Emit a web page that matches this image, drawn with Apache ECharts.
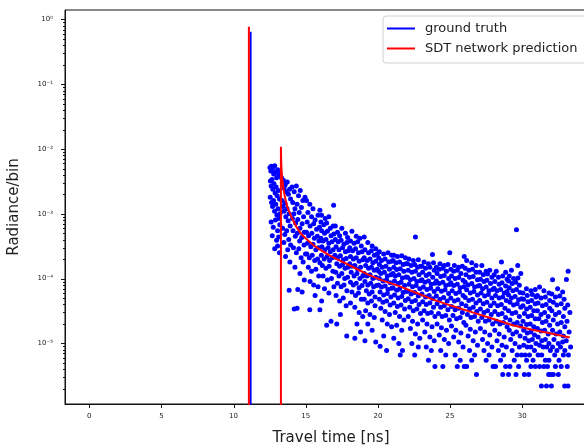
<!DOCTYPE html>
<html><head><meta charset="utf-8">
<script src="https://cdn.jsdelivr.net/npm/echarts@6/dist/echarts.min.js"></script>
<style>html,body{margin:0;padding:0;background:#fff}#c{width:584px;height:446px}</style>
</head><body><div id="c"></div>
<script>
const xTicks = [0, 5, 10, 15, 20, 25, 30];
const yTicks = [1e-5, 1e-4, 1e-3, 1e-2, 1e-1, 1];
const yTickLabels = ['10⁻⁵', '10⁻⁴', '10⁻³', '10⁻²', '10⁻¹', '10⁰'];
const yMinorTicks = [
  2e-6,3e-6,4e-6,5e-6,6e-6,7e-6,8e-6,9e-6,
  2e-5,3e-5,4e-5,5e-5,6e-5,7e-5,8e-5,9e-5,
  2e-4,3e-4,4e-4,5e-4,6e-4,7e-4,8e-4,9e-4,
  2e-3,3e-3,4e-3,5e-3,6e-3,7e-3,8e-3,9e-3,
  2e-2,3e-2,4e-2,5e-2,6e-2,7e-2,8e-2,9e-2,
  2e-1,3e-1,4e-1,5e-1,6e-1,7e-1,8e-1,9e-1
];
const seriesNames = ['ground truth', 'SDT network prediction'];

// ground truth direct peak (vertical spike)
const gtSpike = [[11.18, 1e-9], [11.18, 0.644], [11.18, 1e-9]];

// ground truth scattered radiance per bin
const gtPoints = [
[12.52,5.2e-3],[12.58,4.6e-3],[12.62,5.4e-3],[12.7,5.0e-3],[12.78,4.1e-3],[12.85,5.5e-3],[12.9,4.4e-3],[12.98,3.6e-3],[13.05,4.8e-3],[13.12,3.9e-3],[13.2,4.2e-3],
[12.55,3.2e-3],[12.6,2.7e-3],[12.66,3.4e-3],[12.72,2.4e-3],[12.8,2.9e-3],[12.88,2.1e-3],[12.95,2.6e-3],[13.02,1.9e-3],[13.1,2.3e-3],[13.18,1.7e-3],
[12.54,1.8e-3],[12.63,1.5e-3],[12.7,1.3e-3],[12.77,1.6e-3],[12.84,1.1e-3],[12.92,1.4e-3],[13.0,9.6e-4],[13.08,1.2e-3],[13.15,8.5e-4],[13.22,1.0e-3],
[12.6,7.5e-4],[12.75,6.2e-4],[12.9,8.0e-4],[13.05,5.5e-4],[13.2,6.8e-4],[12.68,4.6e-4],[12.98,3.9e-4],[13.12,4.4e-4],[12.85,2.9e-4],[13.18,2.5e-4],[13.05,3.2e-4],
[13.32,3.6e-3],[13.38,3.0e-3],[13.45,3.3e-3],[13.5,2.5e-3],[13.58,2.8e-3],[13.65,2.2e-3],[13.72,3.1e-3],[13.8,2.0e-3],[13.88,2.4e-3],[13.95,1.7e-3],
[13.35,1.6e-3],[13.42,1.3e-3],[13.5,1.1e-3],[13.56,1.45e-3],[13.62,9.0e-4],[13.7,1.2e-3],[13.78,7.8e-4],[13.85,1.0e-3],[13.92,6.5e-4],
[13.4,6.0e-4],[13.55,4.8e-4],[13.68,5.5e-4],[13.82,4.0e-4],[13.95,3.3e-4],[13.48,3.6e-4],[13.75,2.8e-4],[13.6,2.2e-4],[13.9,1.8e-4],[13.85,6.6e-5],
[14.05,2.6e-3],[14.2,2.2e-3],[14.35,2.7e-3],[14.5,1.9e-3],[14.62,2.3e-3],[14.8,1.6e-3],[14.95,1.8e-3],
[14.1,1.5e-3],[14.25,1.2e-3],[14.4,1.4e-3],[14.55,1.05e-3],[14.7,1.25e-3],[14.85,9.0e-4],
[14.08,8.5e-4],[14.18,1.0e-3],[14.3,7.2e-4],[14.45,8.2e-4],[14.6,6.0e-4],[14.75,7.0e-4],[14.9,5.2e-4],
[14.12,5.5e-4],[14.28,4.5e-4],[14.42,5.0e-4],[14.58,3.8e-4],[14.72,4.3e-4],[14.88,3.3e-4],
[14.15,3.0e-4],[14.35,2.5e-4],[14.52,2.9e-4],[14.68,2.1e-4],[14.82,1.8e-4],[14.98,2.4e-4],
[14.25,1.5e-4],[14.6,1.2e-4],[14.9,9.5e-5],[14.45,6.8e-5],[14.75,6.2e-5],[14.2,3.4e-5],[14.4,3.5e-5],
[15.05,1.6e-3],[15.28,1.4e-3],[15.5,1.2e-3],[15.98,1.14e-3],[15.15,1.05e-3],[15.4,9.0e-4],[15.65,8.0e-4],[15.85,9.5e-4],
[15.1,7.5e-4],[15.3,6.5e-4],[15.55,7.0e-4],[15.75,5.8e-4],[15.95,6.2e-4],
[15.05,5.2e-4],[15.2,4.6e-4],[15.42,5.0e-4],[15.6,4.2e-4],[15.8,4.5e-4],[15.92,3.8e-4],
[15.12,3.5e-4],[15.35,3.1e-4],[15.5,3.4e-4],[15.7,2.8e-4],[15.88,3.0e-4],
[15.08,2.4e-4],[15.25,2.1e-4],[15.45,2.3e-4],[15.62,1.9e-4],[15.82,2.0e-4],[15.98,1.75e-4],
[15.18,1.5e-4],[15.4,1.3e-4],[15.7,1.4e-4],[15.9,1.1e-4],[15.3,9.0e-5],[15.55,8.0e-5],[15.85,7.5e-5],[15.65,5.5e-5],[15.28,3.3e-5],[15.98,3.3e-5],
[16.93,1.36e-3],[16.1,9.5e-4],[16.35,8.5e-4],[16.6,9.0e-4],[16.05,7.5e-4],[16.25,6.8e-4],[16.45,7.2e-4],[16.7,6.0e-4],[16.9,6.5e-4],
[16.1,5.5e-4],[16.3,5.0e-4],[16.5,5.4e-4],[16.75,4.6e-4],[16.95,4.9e-4],
[16.05,4.2e-4],[16.2,3.8e-4],[16.4,4.0e-4],[16.6,3.5e-4],[16.82,3.7e-4],
[16.12,3.1e-4],[16.32,2.8e-4],[16.55,3.0e-4],[16.7,2.6e-4],[16.9,2.8e-4],
[16.08,2.3e-4],[16.28,2.0e-4],[16.48,2.2e-4],[16.65,1.9e-4],[16.85,2.1e-4],
[16.15,1.6e-4],[16.4,1.45e-4],[16.62,1.55e-4],[16.88,1.3e-4],
[16.2,1.1e-4],[16.5,9.5e-5],[16.78,1.0e-4],[16.3,7.0e-5],[16.6,6.0e-5],[16.95,7.5e-5],[16.1,4.5e-5],[16.45,1.9e-5],[16.75,2.2e-5],
[17.05,6.5e-4],[17.5,6.0e-4],[17.2,5.2e-4],[17.75,5.0e-4],[17.35,4.6e-4],[17.9,4.3e-4],
[17.05,4.0e-4],[17.25,3.7e-4],[17.45,3.9e-4],[17.65,3.4e-4],[17.85,3.6e-4],
[17.1,3.1e-4],[17.3,2.8e-4],[17.55,3.0e-4],[17.75,2.6e-4],[17.95,2.7e-4],
[17.02,2.3e-4],[17.2,2.1e-4],[17.4,2.25e-4],[17.6,1.95e-4],[17.8,2.05e-4],
[17.15,1.7e-4],[17.35,1.55e-4],[17.55,1.65e-4],[17.72,1.45e-4],[17.92,1.5e-4],
[17.08,1.25e-4],[17.3,1.1e-4],[17.5,1.2e-4],[17.7,1.0e-4],[17.9,1.05e-4],
[17.2,8.5e-5],[17.45,7.5e-5],[17.65,8.0e-5],[17.85,6.5e-5],
[17.1,5.5e-5],[17.35,4.5e-5],[17.6,5.0e-5],[17.8,3.8e-5],[17.15,2.0e-5],[17.4,2.8e-5],[17.84,1.3e-5],
[18.2,5.4e-4],[18.5,4.5e-4],[18.75,4.2e-4],[18.1,3.8e-4],[18.35,3.5e-4],[18.6,3.7e-4],[18.85,3.2e-4],
[18.05,3.0e-4],[18.25,2.7e-4],[18.45,2.9e-4],[18.65,2.5e-4],[18.9,2.6e-4],
[18.1,2.2e-4],[18.3,2.0e-4],[18.5,2.1e-4],[18.7,1.85e-4],[18.95,1.95e-4],
[18.05,1.7e-4],[18.2,1.55e-4],[18.4,1.6e-4],[18.6,1.4e-4],[18.8,1.5e-4],
[18.15,1.25e-4],[18.35,1.1e-4],[18.55,1.2e-4],[18.75,1.0e-4],[18.95,1.1e-4],
[18.1,8.8e-5],[18.3,8.0e-5],[18.5,8.5e-5],[18.7,7.2e-5],[18.9,7.8e-5],
[18.2,6.2e-5],[18.45,5.5e-5],[18.65,6.0e-5],[18.85,4.8e-5],
[18.1,4.2e-5],[18.4,3.6e-5],[18.7,3.0e-5],[18.95,2.6e-5],[18.55,2.0e-5],[18.4,1.2e-5],[18.8,1.5e-5],
[19.05,4.4e-4],[19.3,3.6e-4],[19.6,3.2e-4],[19.85,2.9e-4],
[19.1,2.8e-4],[19.35,2.5e-4],[19.55,2.7e-4],[19.75,2.3e-4],[19.95,2.4e-4],
[19.05,2.1e-4],[19.25,1.9e-4],[19.45,2.0e-4],[19.65,1.75e-4],[19.85,1.85e-4],
[19.15,1.6e-4],[19.35,1.45e-4],[19.55,1.5e-4],[19.75,1.35e-4],[19.95,1.4e-4],
[19.05,1.2e-4],[19.25,1.1e-4],[19.45,1.15e-4],[19.65,1.0e-4],[19.85,1.05e-4],
[19.1,9.0e-5],[19.3,8.0e-5],[19.5,8.5e-5],[19.7,7.5e-5],[19.9,7.8e-5],
[19.2,6.5e-5],[19.4,5.8e-5],[19.6,6.2e-5],[19.8,5.2e-5],
[19.05,4.8e-5],[19.3,4.2e-5],[19.55,4.5e-5],[19.8,3.8e-5],
[19.15,3.2e-5],[19.45,2.8e-5],[19.75,2.5e-5],[19.3,2.0e-5],[19.6,1.6e-5],[19.1,1.1e-5],[19.85,1.05e-5],
[20.1,2.6e-4],[20.4,2.4e-4],[20.7,2.5e-4],[20.95,2.3e-4],
[20.05,2.1e-4],[20.25,1.9e-4],[20.5,2.0e-4],[20.75,1.8e-4],[20.95,1.85e-4],
[20.1,1.65e-4],[20.3,1.5e-4],[20.55,1.55e-4],[20.8,1.4e-4],
[20.05,1.3e-4],[20.2,1.2e-4],[20.45,1.25e-4],[20.65,1.1e-4],[20.9,1.15e-4],
[20.1,1.0e-4],[20.35,9.2e-5],[20.6,9.6e-5],[20.85,8.6e-5],
[20.05,8.0e-5],[20.25,7.4e-5],[20.5,7.7e-5],[20.7,6.8e-5],[20.95,7.1e-5],
[20.15,6.2e-5],[20.4,5.6e-5],[20.65,5.9e-5],[20.9,5.2e-5],
[20.1,4.8e-5],[20.35,4.3e-5],[20.6,4.5e-5],[20.85,3.9e-5],
[20.2,3.5e-5],[20.5,3.1e-5],[20.8,2.8e-5],[20.3,2.3e-5],[20.65,2.0e-5],[20.95,1.8e-5],[20.4,1.3e-5],[20.15,9.0e-6],[20.6,7.8e-6],
[21.1,2.3e-4],[21.35,2.2e-4],[21.65,2.25e-4],[21.9,2.1e-4],
[21.05,1.9e-4],[21.25,1.75e-4],[21.5,1.8e-4],[21.75,1.65e-4],[21.95,1.7e-4],
[21.1,1.5e-4],[21.3,1.38e-4],[21.55,1.42e-4],[21.8,1.3e-4],
[21.05,1.2e-4],[21.2,1.1e-4],[21.45,1.15e-4],[21.7,1.02e-4],[21.95,1.06e-4],
[21.15,9.2e-5],[21.4,8.4e-5],[21.6,8.8e-5],[21.85,7.8e-5],
[21.05,7.2e-5],[21.3,6.6e-5],[21.5,6.9e-5],[21.75,6.1e-5],[21.95,6.4e-5],
[21.15,5.6e-5],[21.4,5.0e-5],[21.65,5.3e-5],[21.9,4.6e-5],
[21.1,4.2e-5],[21.35,3.7e-5],[21.6,3.9e-5],[21.85,3.4e-5],
[21.2,3.0e-5],[21.5,2.6e-5],[21.8,2.3e-5],[21.3,1.9e-5],[21.65,1.6e-5],[21.1,1.2e-5],[21.45,1.0e-5],[21.7,7.8e-6],[21.55,6.6e-6],
[22.6,4.4e-4],[22.15,2.0e-4],[22.45,1.9e-4],[22.8,1.95e-4],
[22.05,1.7e-4],[22.3,1.6e-4],[22.55,1.65e-4],[22.75,1.5e-4],[22.95,1.55e-4],
[22.1,1.35e-4],[22.35,1.25e-4],[22.6,1.3e-4],[22.85,1.15e-4],
[22.05,1.05e-4],[22.25,9.6e-5],[22.5,1.0e-4],[22.7,9.0e-5],[22.95,9.3e-5],
[22.15,8.2e-5],[22.4,7.5e-5],[22.65,7.8e-5],[22.9,7.0e-5],
[22.05,6.4e-5],[22.3,5.8e-5],[22.55,6.1e-5],[22.8,5.4e-5],
[22.1,4.9e-5],[22.35,4.4e-5],[22.6,4.6e-5],[22.85,4.0e-5],
[22.2,3.6e-5],[22.45,3.2e-5],[22.7,3.4e-5],[22.95,2.9e-5],
[22.1,2.6e-5],[22.4,2.2e-5],[22.75,2.0e-5],[22.25,1.7e-5],[22.6,1.4e-5],[22.9,1.2e-5],[22.35,1.0e-5],[22.8,8.8e-6],[22.55,6.6e-6],
[23.78,2.35e-4],[23.2,1.8e-4],[23.5,1.7e-4],[23.85,1.75e-4],
[23.05,1.55e-4],[23.3,1.45e-4],[23.6,1.5e-4],[23.9,1.35e-4],
[23.1,1.25e-4],[23.35,1.12e-4],[23.55,1.18e-4],[23.8,1.05e-4],
[23.05,9.6e-5],[23.25,8.8e-5],[23.5,9.2e-5],[23.7,8.2e-5],[23.95,8.5e-5],
[23.15,7.4e-5],[23.4,6.8e-5],[23.65,7.1e-5],[23.9,6.3e-5],
[23.05,5.8e-5],[23.3,5.2e-5],[23.55,5.5e-5],[23.8,4.9e-5],
[23.1,4.4e-5],[23.35,4.0e-5],[23.6,4.2e-5],[23.85,3.6e-5],
[23.2,3.2e-5],[23.45,2.9e-5],[23.7,3.0e-5],[23.95,2.6e-5],
[23.1,2.3e-5],[23.4,2.0e-5],[23.75,1.8e-5],[23.25,1.5e-5],[23.6,1.25e-5],[23.9,1.1e-5],[23.35,8.8e-6],[23.7,7.8e-6],[23.5,5.5e-6],[23.95,4.4e-6],
[24.98,2.5e-4],[24.3,1.7e-4],[24.6,1.6e-4],[24.85,1.65e-4],
[24.05,1.5e-4],[24.25,1.4e-4],[24.5,1.45e-4],[24.75,1.3e-4],
[24.1,1.2e-4],[24.35,1.08e-4],[24.6,1.12e-4],[24.9,1.0e-4],
[24.05,9.2e-5],[24.25,8.4e-5],[24.5,8.8e-5],[24.7,7.8e-5],[24.95,8.1e-5],
[24.15,7.0e-5],[24.4,6.4e-5],[24.65,6.7e-5],[24.9,5.9e-5],
[24.05,5.4e-5],[24.3,4.8e-5],[24.55,5.1e-5],[24.8,4.5e-5],
[24.1,4.1e-5],[24.35,3.6e-5],[24.6,3.8e-5],[24.85,3.3e-5],
[24.2,2.9e-5],[24.45,2.6e-5],[24.7,2.7e-5],[24.95,2.3e-5],
[24.1,2.0e-5],[24.4,1.75e-5],[24.75,1.6e-5],[24.25,1.35e-5],[24.6,1.15e-5],[24.9,1.0e-5],[24.35,7.8e-6],[24.7,6.6e-6],[24.5,4.4e-6],
[25.98,2.2e-4],[25.3,1.6e-4],[25.6,1.5e-4],[25.85,1.55e-4],
[25.05,1.4e-4],[25.25,1.3e-4],[25.5,1.35e-4],[25.75,1.2e-4],
[25.1,1.1e-4],[25.35,1.0e-4],[25.6,1.04e-4],[25.9,9.4e-5],
[25.05,8.6e-5],[25.25,7.8e-5],[25.5,8.2e-5],[25.7,7.2e-5],[25.95,7.5e-5],
[25.15,6.5e-5],[25.4,5.9e-5],[25.65,6.2e-5],[25.9,5.5e-5],
[25.05,5.0e-5],[25.3,4.5e-5],[25.55,4.7e-5],[25.8,4.1e-5],
[25.1,3.7e-5],[25.35,3.3e-5],[25.6,3.5e-5],[25.85,3.0e-5],
[25.2,2.7e-5],[25.45,2.4e-5],[25.7,2.5e-5],[25.95,2.1e-5],
[25.1,1.85e-5],[25.4,1.6e-5],[25.75,1.45e-5],[25.25,1.25e-5],[25.6,1.05e-5],[25.9,8.8e-6],[25.35,6.6e-6],[25.7,5.5e-6],[25.5,4.4e-6],[25.98,4.4e-6],
[26.15,1.9e-4],[26.5,1.75e-4],[26.8,1.6e-4],
[26.05,1.45e-4],[26.3,1.35e-4],[26.55,1.4e-4],[26.8,1.25e-4],
[26.1,1.15e-4],[26.35,1.05e-4],[26.6,1.08e-4],[26.9,9.6e-5],
[26.05,8.8e-5],[26.25,8.0e-5],[26.5,8.4e-5],[26.7,7.4e-5],[26.95,7.7e-5],
[26.15,6.7e-5],[26.4,6.0e-5],[26.65,6.3e-5],[26.9,5.6e-5],
[26.05,5.1e-5],[26.3,4.6e-5],[26.55,4.8e-5],[26.8,4.2e-5],
[26.1,3.8e-5],[26.35,3.4e-5],[26.6,3.6e-5],[26.85,3.1e-5],
[26.2,2.8e-5],[26.45,2.5e-5],[26.7,2.6e-5],[26.95,2.2e-5],
[26.1,1.9e-5],[26.4,1.65e-5],[26.75,1.5e-5],[26.25,1.3e-5],[26.6,1.1e-5],[26.9,9.4e-6],[26.35,7.8e-6],[26.7,6.6e-6],[26.5,5.5e-6],[26.15,4.4e-6],[26.83,3.3e-6],
[27.2,1.6e-4],[27.75,1.35e-4],[27.5,1.3e-4],
[27.05,1.25e-4],[27.3,1.15e-4],[27.6,1.18e-4],[27.9,1.05e-4],
[27.1,9.8e-5],[27.35,9.0e-5],[27.55,9.4e-5],[27.8,8.4e-5],
[27.05,7.8e-5],[27.25,7.0e-5],[27.5,7.4e-5],[27.7,6.5e-5],[27.95,6.8e-5],
[27.15,6.0e-5],[27.4,5.4e-5],[27.65,5.7e-5],[27.9,5.0e-5],
[27.05,4.6e-5],[27.3,4.1e-5],[27.55,4.3e-5],[27.8,3.8e-5],
[27.1,3.4e-5],[27.35,3.0e-5],[27.6,3.2e-5],[27.85,2.8e-5],
[27.2,2.5e-5],[27.45,2.2e-5],[27.7,2.3e-5],[27.95,2.0e-5],
[27.1,1.7e-5],[27.4,1.5e-5],[27.75,1.35e-5],[27.25,1.15e-5],[27.6,1.0e-5],[27.9,8.8e-6],[27.35,7.8e-6],[27.7,6.6e-6],[27.5,5.5e-6],[27.98,4.4e-6],
[28.56,1.8e-4],[28.2,1.3e-4],[28.85,1.25e-4],
[28.05,1.15e-4],[28.35,1.05e-4],[28.65,1.1e-4],[28.95,9.8e-5],
[28.1,9.0e-5],[28.4,8.2e-5],[28.6,8.6e-5],[28.85,7.7e-5],
[28.05,7.1e-5],[28.25,6.5e-5],[28.5,6.8e-5],[28.75,6.0e-5],[28.95,6.3e-5],
[28.15,5.5e-5],[28.4,5.0e-5],[28.65,5.2e-5],[28.9,4.6e-5],
[28.05,4.2e-5],[28.3,3.8e-5],[28.55,4.0e-5],[28.8,3.5e-5],
[28.1,3.1e-5],[28.35,2.8e-5],[28.6,2.9e-5],[28.85,2.5e-5],
[28.2,2.2e-5],[28.45,2.0e-5],[28.7,2.1e-5],[28.95,1.8e-5],
[28.1,1.6e-5],[28.4,1.4e-5],[28.75,1.25e-5],[28.25,1.1e-5],[28.6,9.4e-6],[28.9,8.8e-6],[28.35,7.8e-6],[28.7,6.6e-6],[28.5,5.5e-6],[28.15,4.4e-6],[28.85,4.4e-6],[28.65,3.3e-6],
[29.6,5.7e-4],[29.69,1.6e-4],[29.25,1.35e-4],[29.9,1.2e-4],
[29.1,1.1e-4],[29.4,1.0e-4],[29.7,1.02e-4],
[29.05,9.2e-5],[29.3,8.4e-5],[29.55,8.8e-5],[29.8,7.9e-5],
[29.1,7.2e-5],[29.35,6.5e-5],[29.6,6.8e-5],[29.85,6.1e-5],
[29.05,5.6e-5],[29.25,5.0e-5],[29.5,5.3e-5],[29.75,4.7e-5],[29.95,4.9e-5],
[29.15,4.3e-5],[29.4,3.9e-5],[29.65,4.1e-5],[29.9,3.6e-5],
[29.05,3.2e-5],[29.3,2.9e-5],[29.55,3.0e-5],[29.8,2.6e-5],
[29.15,2.3e-5],[29.4,2.0e-5],[29.65,2.1e-5],[29.9,1.85e-5],
[29.1,1.6e-5],[29.35,1.4e-5],[29.6,1.5e-5],[29.85,1.3e-5],
[29.2,1.15e-5],[29.5,1.0e-5],[29.8,8.8e-6],[29.3,7.8e-6],[29.65,6.6e-6],[29.95,6.6e-6],[29.45,5.5e-6],[29.15,4.4e-6],[29.75,4.4e-6],[29.57,3.3e-6],[29.05,3.3e-6],
[30.29,7.0e-5],[30.6,6.5e-5],[30.9,6.8e-5],
[30.05,6.0e-5],[30.35,5.5e-5],[30.7,5.7e-5],[30.95,5.2e-5],
[30.1,4.8e-5],[30.4,4.4e-5],[30.65,4.6e-5],[30.9,4.1e-5],
[30.05,3.8e-5],[30.3,3.4e-5],[30.55,3.6e-5],[30.8,3.2e-5],
[30.15,2.9e-5],[30.4,2.6e-5],[30.65,2.7e-5],[30.9,2.4e-5],
[30.05,2.2e-5],[30.3,1.95e-5],[30.55,2.0e-5],[30.8,1.8e-5],
[30.1,1.6e-5],[30.35,1.45e-5],[30.6,1.5e-5],[30.85,1.35e-5],
[30.2,1.2e-5],[30.45,1.1e-5],[30.7,1.15e-5],[30.95,1.0e-5],
[30.1,9.4e-6],[30.35,8.8e-6],[30.6,8.8e-6],[30.85,7.8e-6],
[30.2,6.6e-6],[30.5,6.6e-6],[30.75,5.5e-6],[30.3,5.5e-6],[30.6,4.4e-6],[30.9,4.4e-6],[30.15,3.3e-6],[30.45,3.3e-6],
[31.2,7.4e-5],[31.5,6.5e-5],[31.85,6.0e-5],
[31.05,5.5e-5],[31.3,5.0e-5],[31.6,5.2e-5],[31.9,4.6e-5],
[31.1,4.2e-5],[31.4,3.8e-5],[31.65,4.0e-5],[31.9,3.5e-5],
[31.05,3.2e-5],[31.3,2.8e-5],[31.55,3.0e-5],[31.8,2.6e-5],
[31.15,2.4e-5],[31.4,2.1e-5],[31.65,2.2e-5],[31.9,1.9e-5],
[31.05,1.7e-5],[31.3,1.55e-5],[31.55,1.6e-5],[31.8,1.4e-5],
[31.1,1.25e-5],[31.35,1.1e-5],[31.6,1.15e-5],[31.85,1.0e-5],
[31.2,9.4e-6],[31.45,8.8e-6],[31.7,8.8e-6],[31.95,7.8e-6],
[31.1,6.6e-6],[31.35,6.6e-6],[31.6,5.5e-6],[31.85,5.5e-6],
[31.2,4.4e-6],[31.5,4.4e-6],[31.75,4.4e-6],[31.83,3.3e-6],[31.98,3.3e-6],[31.33,2.2e-6],[31.68,2.2e-6],[32.02,2.2e-6],
[32.1,9.6e-5],[32.45,7.0e-5],[32.8,6.2e-5],
[32.05,5.8e-5],[32.3,5.2e-5],[32.6,5.4e-5],[32.9,4.8e-5],
[32.15,4.3e-5],[32.4,3.9e-5],[32.7,4.1e-5],[32.95,3.5e-5],
[32.05,3.2e-5],[32.3,2.8e-5],[32.55,3.0e-5],[32.85,2.6e-5],
[32.15,2.3e-5],[32.45,2.0e-5],[32.7,2.1e-5],[32.95,1.8e-5],
[32.1,1.6e-5],[32.35,1.4e-5],[32.6,1.5e-5],[32.85,1.3e-5],
[32.2,1.15e-5],[32.5,1.0e-5],[32.8,1.05e-5],
[32.1,8.8e-6],[32.4,7.8e-6],[32.65,8.8e-6],[32.95,7.8e-6],
[32.25,6.6e-6],[32.55,5.5e-6],[32.85,6.6e-6],[32.3,4.4e-6],[32.7,4.4e-6],[32.15,3.3e-6],[32.5,3.3e-6],[32.94,2.2e-6],
[33.06,9.7e-5],[33.18,1.3e-4],[33.15,3.9e-5],[33.3,3.0e-5],[33.1,2.2e-5],[33.25,1.5e-5],[33.05,1.1e-5],[33.35,8.8e-6],[33.2,6.6e-6],[33.12,4.4e-6],[33.17,2.2e-6]
];

// network prediction: direct spike, then scattered tail
const predSpike = [[11.06, 1e-9], [11.06, 0.77], [11.06, 1e-9]];
const predCurve = [
[13.28,1e-9],[13.28,1.08e-2],[13.3,6.5e-3],[13.33,4.5e-3],[13.38,3.3e-3],[13.45,2.5e-3],[13.57,1.75e-3],
[13.75,1.22e-3],[14.04,8.6e-4],[14.35,6.3e-4],[14.73,4.74e-4],[15.2,3.8e-4],[15.65,3.14e-4],[16.1,2.7e-4],
[16.58,2.33e-4],[17.15,2.0e-4],[17.73,1.73e-4],[18.5,1.42e-4],[19.25,1.17e-4],[20.3,9.4e-5],[21.47,7.66e-5],
[22.6,6.1e-5],[23.78,4.78e-5],[25.1,3.8e-5],[26.5,3.04e-5],[27.9,2.42e-5],[29.34,1.91e-5],[30.7,1.62e-5],
[32.0,1.42e-5],[33.29,1.23e-5]
];

const X_MIN = -1.68, X_MAX = 35.18, Y_MIN = 1.16e-6, Y_MAX = 1.40;
const chart = echarts.init(document.getElementById('c'), null, {renderer: 'canvas'});
const FONT = 'DejaVu Sans';
const INK = '#111';
function yLabel(v) {
  for (let i = 0; i < yTicks.length; i++) {
    if (Math.abs(Math.log10(yTicks[i]) - Math.log10(v)) < 1e-6) return yTickLabels[i];
  }
  return '';
}
chart.setOption({
  animation: false,
  backgroundColor: '#fff',
  grid: {left: 65, top: 10, width: 532, height: 394, outerBoundsMode: 'none', containLabel: false,
         show: true, borderColor: INK, borderWidth: 1, backgroundColor: 'transparent'},
  legend: {
    data: seriesNames,
    orient: 'vertical',
    left: 383, top: 16,
    padding: [6, 16, 8, 4],
    icon: 'rect',
    itemWidth: 28, itemHeight: 2, itemGap: 7,
    backgroundColor: 'rgba(255,255,255,0.8)',
    borderColor: '#d0d0d0', borderWidth: 1, borderRadius: 3,
    textStyle: {fontFamily: FONT, fontSize: 13, color: '#222', padding: [0, 0, 0, 5]},
    selectedMode: false
  },
  xAxis: {
    type: 'value', min: X_MIN, max: X_MAX,
    name: 'Travel time [ns]', nameLocation: 'middle', nameGap: 27,
    nameTextStyle: {fontFamily: FONT, fontSize: 15, color: '#222'},
    axisLine: {show: true, onZero: false, lineStyle: {color: INK, width: 1}},
    axisTick: {show: false},
    axisLabel: {fontFamily: FONT, fontSize: 7, color: '#222', margin: 9, customValues: xTicks},
    splitLine: {show: false}
  },
  yAxis: {
    type: 'log', logBase: 10, min: Y_MIN, max: Y_MAX,
    name: 'Radiance/bin', nameLocation: 'middle', nameGap: 43,
    nameTextStyle: {fontFamily: FONT, fontSize: 15, color: '#222'},
    axisLine: {show: true, onZero: false, lineStyle: {color: INK, width: 1}},
    axisTick: {show: false},
    axisLabel: {fontFamily: FONT, fontSize: 7, color: '#222', margin: 12, customValues: yTicks, formatter: yLabel},
    splitLine: {show: false}, minorTick: {show: false}
  },
  series: [
    {name: seriesNames[0], type: 'line', data: gtSpike, symbol: 'none', lineStyle: {color: '#0000ff', width: 2}, itemStyle: {color: '#0000ff'}, z: 3},
    {name: 'gt bins', type: 'scatter', data: gtPoints, symbol: 'circle', symbolSize: 5, itemStyle: {color: '#0000ff', opacity: 1}, z: 2},
    {name: seriesNames[1], type: 'line', data: predSpike, symbol: 'none', lineStyle: {color: '#ff0000', width: 2}, itemStyle: {color: '#ff0000'}, z: 4},
    {name: seriesNames[1], type: 'line', data: predCurve, symbol: 'none', lineStyle: {color: '#ff0000', width: 2}, itemStyle: {color: '#ff0000'}, z: 4}
  ]
});

// tick marks: positions come from the chart's own axis scales
const tickEls = [];
function addYTick(v, len, w) {
  const p = chart.convertToPixel({gridIndex: 0}, [X_MIN, v]);
  const x = Math.round(p[0]), y = Math.round(p[1]) + 0.5;
  tickEls.push({type: 'line', shape: {x1: x - len, y1: y, x2: x, y2: y}, style: {stroke: INK, lineWidth: w}, silent: true, z: 100});
}
yTicks.forEach(v => addYTick(v, 4, 1));
yMinorTicks.forEach(v => addYTick(v, 2, 1));
xTicks.forEach(v => {
  const p = chart.convertToPixel({gridIndex: 0}, [v, Y_MIN]);
  const x = Math.round(p[0]) + 0.5, y = Math.round(p[1]);
  tickEls.push({type: 'line', shape: {x1: x, y1: y, x2: x, y2: y + 4}, style: {stroke: INK, lineWidth: 1}, silent: true, z: 100});
});
chart.setOption({graphic: {elements: tickEls}});
</script></body></html>
